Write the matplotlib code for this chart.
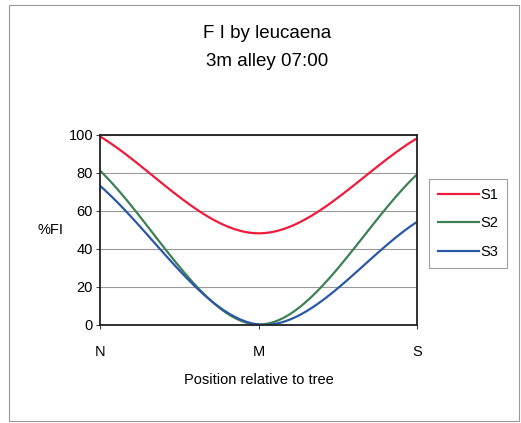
import numpy as np
import matplotlib
matplotlib.use("Agg")
import matplotlib.pyplot as plt
from matplotlib.patches import Rectangle

# data (three positions, Excel-style smoothed lines)
positions = ["N", "M", "S"]
s1 = [99, 48, 98]
s2 = [81, 0, 79]
s3 = [73, 0, 54]
series_names = ["S1", "S2", "S3"]
colors = ["#EE1C3A", "#3E8055", "#2B58A6"]

plt.rcParams['font.family'] = ['Liberation Sans', 'DejaVu Sans']


def smooth(y, n=60):
    # cubic hermite like Excel's smoothed line: chord tangent at ends,
    # centred difference inside
    y = np.asarray(y, float)
    m = np.zeros_like(y)
    m[0] = y[1] - y[0]
    m[-1] = y[-1] - y[-2]
    for i in range(1, len(y) - 1):
        m[i] = (y[i + 1] - y[i - 1]) / 2
    xs, ys = [], []
    for i in range(len(y) - 1):
        t = np.linspace(0, 1, n)
        h00 = 2 * t**3 - 3 * t**2 + 1
        h10 = t**3 - 2 * t**2 + t
        h01 = -2 * t**3 + 3 * t**2
        h11 = t**3 - t**2
        xs.append(i + t)
        ys.append(h00 * y[i] + h10 * m[i] + h01 * y[i + 1] + h11 * m[i + 1])
    return np.concatenate(xs), np.concatenate(ys)


fig = plt.figure(figsize=(5.21, 4.23), dpi=100)
ax = fig.add_axes([100 / 521, 1 - 324.5 / 423, 317 / 521, 190 / 423])

for vals, name, c in zip([s1, s2, s3], series_names, colors):
    x, y = smooth(vals)
    ax.plot(x, y, color=c, lw=1.6, label=name, clip_on=True)

ax.set_xlim(0, 2)
ax.set_ylim(0, 100)
ax.set_yticks([0, 20, 40, 60, 80, 100])
ax.set_xticks([0, 1, 2])
ax.set_xticklabels(positions)
ax.tick_params(axis='both', labelsize=10.5, length=3, width=0.8, color='#444444')
ax.tick_params(axis='x', pad=12)
ax.tick_params(axis='y', pad=2)
ax.grid(axis='y', color='#999999', lw=0.8)
ax.set_axisbelow(True)
for sp in ax.spines.values():
    sp.set_color('#222222')
    sp.set_linewidth(1.3)

ax.set_xlabel("Position relative to tree", fontsize=10.5, labelpad=10)
ax.set_ylabel("%FI", fontsize=10.5, rotation=0, labelpad=13, va='center')

fig.text(267 / 521, 1 - 33 / 423, "F I by leucaena", ha='center', va='center', fontsize=13.5)
fig.text(267 / 521, 1 - 62 / 423, "3m alley 07:00", ha='center', va='center', fontsize=13.5)

leg = ax.legend(loc='upper left', bbox_to_anchor=(429 / 521, 1 - 179 / 423),
                bbox_transform=fig.transFigure, frameon=True, fancybox=False,
                fontsize=10.5, handlelength=2.85, handletextpad=0.05,
                labelspacing=1.0, borderpad=0.6, borderaxespad=0)
leg.get_frame().set_edgecolor('#888888')
leg.get_frame().set_linewidth(0.8)

fig.patches.append(Rectangle((9 / 521, 1 - 421 / 423), 510 / 521, 416 / 423,
                             transform=fig.transFigure, fill=False,
                             edgecolor='#999999', lw=0.8))

fig.savefig("out.png", dpi=100)
